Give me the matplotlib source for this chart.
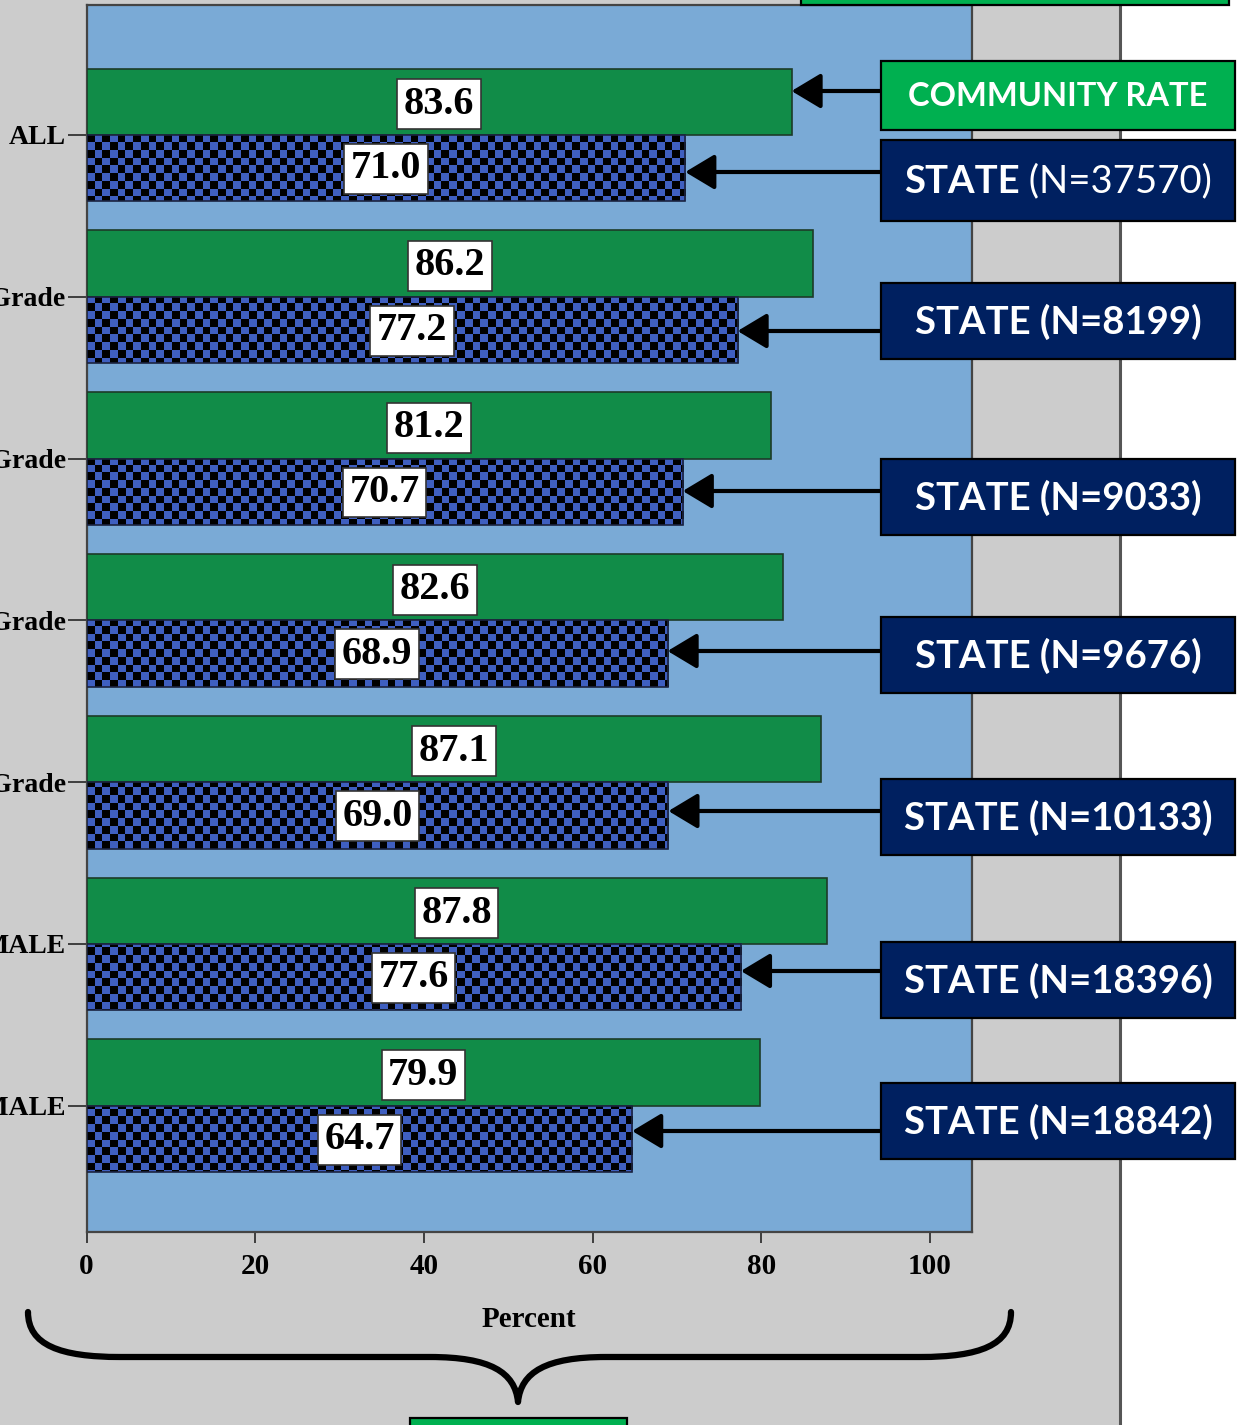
import numpy as np
import matplotlib
matplotlib.use('Agg')
import matplotlib.pyplot as plt
from matplotlib.patches import Rectangle, PathPatch
from matplotlib.path import Path
from matplotlib.colors import ListedColormap

# data
groups = ['ALL', '6th Grade', '8th Grade', '10th Grade', '12th Grade', 'MALE', 'FEMALE']
community = [83.6, 86.2, 81.2, 82.6, 87.1, 87.8, 79.9]
state = [71.0, 77.2, 70.7, 68.9, 69.0, 77.6, 64.7]
state_n = [37570, 8199, 9033, 9676, 10133, 18396, 18842]
x_ticks = [0, 20, 40, 60, 80, 100]

# colours
GREY = '#cccccc'
PLOT_BG = '#7aaad6'
BAR_GREEN = '#118c48'
CHECK_BLUE = '#3f5fc0'
BOX_GREEN = '#00b050'
BOX_NAVY = '#002060'

W, H = 1241, 1425
fig = plt.figure(figsize=(W / 100, H / 100), dpi=100)
fig.patch.set_facecolor('white')

# background panel (pixel coordinates)
bg = fig.add_axes([0, 0, 1, 1], zorder=0)
bg.set_xlim(0, W)
bg.set_ylim(H, 0)
bg.axis('off')
bg.add_patch(Rectangle((0, -5), 1120, H + 10, facecolor=GREY, edgecolor='none'))
bg.plot([1120, 1120], [0, H], color='#555555', lw=2.2)

# main chart
left, right, top, bottom = 86.5, 972, 5, 1232
ax = fig.add_axes([left / W, 1 - bottom / H, (right - left) / W, (bottom - top) / H], zorder=1)
ax.set_facecolor(PLOT_BG)
ylo, yhi = 6.78, -0.803

y = np.arange(len(groups))
h = 0.41
ax.barh(y - 0.205, community, height=h, color=BAR_GREEN, edgecolor='#1d3b28', lw=1.2, zorder=3)
sbars = ax.barh(y + 0.205, state, height=h, facecolor='none', edgecolor='#1b2340', lw=1.2, zorder=4)

# checkered fill for the state bars
ncol, nrow = 115, 160
checker = (np.add.outer(np.arange(nrow), np.arange(ncol)) % 2).astype(float)
cmap = ListedColormap([CHECK_BLUE, 'black'])
for b in sbars:
    im = ax.imshow(checker, extent=(0, 105, ylo, yhi), aspect='auto',
                   interpolation='nearest', cmap=cmap, zorder=3)
    im.set_clip_path(b)

ax.set_xlim(0, 105)
ax.set_ylim(ylo, yhi)

lab_kw = dict(ha='center', va='center', fontsize=29, fontweight='bold', family='Liberation Serif',
              zorder=6, bbox=dict(boxstyle='square,pad=0.16', fc='white', ec='#333333', lw=1.2))
for i in range(len(groups)):
    ax.text(community[i] / 2, i - 0.19, f'{community[i]:.1f}', **lab_kw)
    ax.text(state[i] / 2, i + 0.21, f'{state[i]:.1f}', **lab_kw)

ax.set_yticks(y)
ax.set_yticklabels(groups, family='Liberation Serif', fontsize=20, fontweight='bold')
ax.set_xticks(x_ticks)
ax.set_xticklabels([str(t) for t in x_ticks], family='Liberation Serif', fontsize=21,
                   fontweight='bold')
ax.tick_params(axis='y', length=14, width=1.3, pad=1, color='#333333')
ax.tick_params(axis='x', length=8, width=1.3, pad=7, color='#333333')
ax.set_xlabel('Percent', family='Liberation Serif', fontsize=21, fontweight='bold', labelpad=19)
for s in ax.spines.values():
    s.set_color('#444444')
    s.set_linewidth(1.6)

# callouts (pixel coordinates)
ov = fig.add_axes([0, 0, 1, 1], zorder=2)
ov.set_xlim(0, W)
ov.set_ylim(H, 0)
ov.axis('off')
ov.patch.set_alpha(0)

box_x0, box_x1 = 881, 1235
state_boxes = [(140, 221), (283, 359), (459, 535), (617, 693), (779, 855), (942, 1018), (1083, 1159)]
state_arrow_y = [172, 331, 491, 651, 811, 971, 1131]
comm_box = (61, 130)
comm_arrow_y = 91


def to_px(xv):
    d = ax.transData.transform((xv, 0))
    return ov.transData.inverted().transform(d)[0]


arrow_kw = dict(arrowstyle='-|>,head_length=1.0,head_width=0.6', color='black', lw=3,
                mutation_scale=18, shrinkA=0, shrinkB=0)


def callout(yb, color, tip_x, arrow_y):
    ov.add_patch(Rectangle((box_x0, yb[0]), box_x1 - box_x0, yb[1] - yb[0],
                           facecolor=color, edgecolor='black', lw=1.6, zorder=3))
    ov.annotate('', xy=(tip_x, arrow_y), xytext=(box_x0, arrow_y), arrowprops=arrow_kw, zorder=2)


callout(comm_box, BOX_GREEN, to_px(community[0]), comm_arrow_y)
ov.text((box_x0 + box_x1) / 2, sum(comm_box) / 2 + 1, 'COMMUNITY RATE', ha='center', va='center',
        color='white', fontsize=23.5, fontweight='bold', family='Lato', zorder=4)

first_parts = []
for i, (yb, n) in enumerate(zip(state_boxes, state_n)):
    callout(yb, BOX_NAVY, to_px(state[i]), state_arrow_y[i])
    cy = sum(yb) / 2 + 1
    if i == 0:
        t1 = ov.text(0, cy, 'STATE', ha='left', va='center', color='white', fontsize=27.5,
                     fontweight='bold', family='Lato', zorder=4)
        t2 = ov.text(0, cy, ' (N={})'.format(n), ha='left', va='center', color='white',
                     fontsize=27.5, fontweight='normal', family='Lato', zorder=4)
        first_parts = [t1, t2]
    else:
        ov.text((box_x0 + box_x1) / 2, cy, f'STATE (N={n})', ha='center', va='center',
                color='white', fontsize=27.5, fontweight='bold', family='Lato', zorder=4)

# centre the mixed-weight label
r = fig.canvas.get_renderer()
w1 = first_parts[0].get_window_extent(r).width
w2 = first_parts[1].get_window_extent(r).width
x0 = (box_x0 + box_x1) / 2 - (w1 + w2) / 2
first_parts[0].set_x(x0)
first_parts[1].set_x(x0 + w1)

# partial boxes at the edges
ov.add_patch(Rectangle((801, -20), 428, 25, facecolor=BOX_GREEN, edgecolor='black', lw=1.6))
ov.add_patch(Rectangle((410, 1418), 217, 30, facecolor=BOX_GREEN, edgecolor='black', lw=1.6))

# brace under the axis
verts = [(28, 1312), (28, 1345), (60, 1357), (120, 1357),
         (430, 1357),
         (490, 1357), (515, 1372), (518, 1402),
         (521, 1372), (546, 1357), (606, 1357),
         (920, 1357),
         (980, 1357), (1011, 1345), (1011, 1312)]
codes = [Path.MOVETO, Path.CURVE4, Path.CURVE4, Path.CURVE4,
         Path.LINETO,
         Path.CURVE4, Path.CURVE4, Path.CURVE4,
         Path.CURVE4, Path.CURVE4, Path.CURVE4,
         Path.LINETO,
         Path.CURVE4, Path.CURVE4, Path.CURVE4]
ov.add_patch(PathPatch(Path(verts, codes), facecolor='none', edgecolor='black', lw=4.5,
                       capstyle='round', joinstyle='round'))

fig.savefig('out.png', dpi=100)
